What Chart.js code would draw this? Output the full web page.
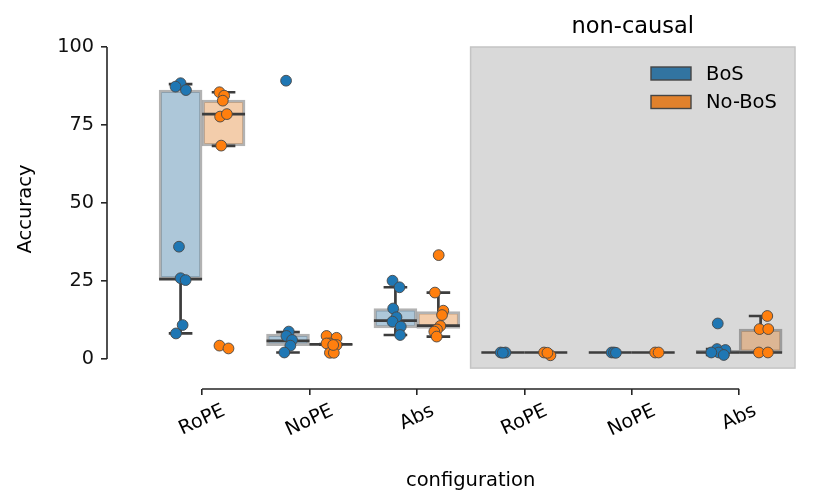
<!DOCTYPE html>
<html>
<head>
<meta charset="utf-8">
<script src="https://cdn.jsdelivr.net/npm/chart.js@4.4.1/dist/chart.umd.min.js"></script>
<style>
  html, body { margin: 0; padding: 0; background: #fff; }
</style>
</head>
<body>
<canvas id="chart" width="830" height="503"></canvas>
<script>
// — DATA —
const categories = ['RoPE', 'NoPE', 'Abs', 'RoPE', 'NoPE', 'Abs'];
const hues = ['BoS', 'No-BoS'];
const yTicks = [0, 25, 50, 75, 100];

// box stats per configuration: [whisker low, q1, median, q3, whisker high]
const bosBoxes = [
  [8.2, 25.6, 25.6, 86.2, 88.1],
  [2.1, 4.3, 5.8, 8.0, 8.6],
  [7.7, 10.0, 12.3, 16.2, 23.0],
  [2.1, 2.1, 2.1, 2.1, 2.1],
  [2.1, 2.1, 2.1, 2.1, 2.1],
  [1.3, 1.9, 2.1, 2.8, 3.2]
];
const noBosBoxes = [
  [68.3, 68.3, 78.5, 83.0, 85.5],
  [4.6, 4.6, 4.7, 4.8, 4.8],
  [7.2, 9.8, 10.7, 15.2, 21.3],
  [2.1, 2.1, 2.1, 2.1, 2.1],
  [2.1, 2.1, 2.1, 2.1, 2.1],
  [2.1, 2.1, 2.1, 9.6, 13.8]
];

// individual runs (strip points)
const bosPoints = [
  [88.4, 87.3, 86.2, 36.0, 25.9, 25.3, 10.9, 8.2],
  [89.2, 8.8, 7.4, 6.1, 4.3, 2.1],
  [25.1, 23.0, 16.2, 13.4, 12.0, 10.4, 7.7],
  [2.1, 2.1, 2.0],
  [2.1, 2.1, 2.0],
  [11.4, 3.2, 2.9, 2.1, 1.3, 2.1]
];
const noBosPoints = [
  [85.5, 84.4, 82.8, 77.7, 78.5, 68.4, 4.3, 3.4],
  [7.4, 6.8, 5.0, 4.5, 5.0, 2.0, 2.0, 4.5],
  [33.3, 21.3, 15.5, 14.1, 10.6, 9.5, 8.8, 7.2],
  [2.1, 1.2, 2.0],
  [2.1, 2.1],
  [13.8, 9.6, 9.6, 2.1, 2.1]
];

// strip jitter (in category units)
const bosJitter = [
  [0, -0.047, 0.05, -0.015, 0, 0.047, 0.019, -0.043],
  [-0.018, 0.007, -0.015, 0.038, 0.022, -0.034],
  [-0.027, 0.038, -0.021, 0.01, -0.027, 0.05, 0.044],
  [-0.02, 0.025, 0.0],
  [0.013, 0.035, 0.053],
  [0.001, -0.006, 0.072, 0.01, 0.057, -0.059]
];
const noBosJitter = [
  [-0.038, 0.006, -0.007, -0.032, 0.031, -0.022, -0.038, 0.046],
  [-0.041, 0.052, -0.01, 0.052, -0.041, -0.01, 0.027, 0.021],
  [0.003, -0.032, 0.046, 0.034, 0.018, -0.013, -0.038, -0.016],
  [-0.016, 0.043, 0.015],
  [0.018, 0.05],
  [0.062, -0.01, 0.071, -0.016, 0.068]
];

// — STYLE / LAYOUT —
const FONT = 'DejaVu Sans';
const INK = '#262626';
const DODGE = 0.2;        // hue offset from category centre
const CAP = 0.11;         // half cap width
const PANEL = { from: 2.5, to: 5.52, low: -2.9, high: 100, title: 'non-causal' };
const hueStyle = [
  { solid: '#3274a1', fill: 'rgba(50,116,161,0.4)', point: '#1f77b4' },
  { solid: '#e1812c', fill: 'rgba(225,129,44,0.4)', point: '#ff7f0e' }
];

function boxData(boxes, off) {
  return boxes.map((b, i) => ({ x: i + off, y: [b[1], b[3]] }));
}

function lineData(boxes, off) {
  const out = [];
  boxes.forEach((b, i) => {
    const [lo, q1, med, q3, hi] = b;
    const cx = i + off;
    const gap = { x: cx, y: null };
    out.push(
      { x: cx - DODGE, y: med }, { x: cx + DODGE, y: med }, gap,
      { x: cx, y: q3 }, { x: cx, y: hi }, gap,
      { x: cx, y: q1 }, { x: cx, y: lo }, gap,
      { x: cx - CAP, y: hi }, { x: cx + CAP, y: hi }, gap,
      { x: cx - CAP, y: lo }, { x: cx + CAP, y: lo }, gap
    );
  });
  return out;
}

function pointData(points, jitter, off) {
  const out = [];
  points.forEach((vals, i) => {
    vals.forEach((v, k) => out.push({ x: i + off + jitter[i][k], y: v }));
  });
  return out;
}

const hueData = [
  { boxes: bosBoxes, points: bosPoints, jitter: bosJitter, off: -DODGE },
  { boxes: noBosBoxes, points: noBosPoints, jitter: noBosJitter, off: DODGE }
];

const datasets = [];
hueData.forEach((h, k) => {
  datasets.push({
    type: 'bar', label: hues[k], data: boxData(h.boxes, h.off), order: 2,
    grouped: false, barPercentage: 1, categoryPercentage: 1,
    backgroundColor: hueStyle[k].fill, borderColor: 'rgba(63,63,63,0.4)',
    borderWidth: 2.6, borderSkipped: false
  });
  datasets.push({
    type: 'scatter', label: hues[k] + ' lines', data: lineData(h.boxes, h.off), order: 1,
    showLine: true, spanGaps: false, pointRadius: 0, borderColor: '#3d3d3d',
    borderWidth: 2.7, borderCapStyle: 'butt'
  });
  datasets.push({
    type: 'scatter', label: hues[k] + ' runs', data: pointData(h.points, h.jitter, h.off), order: 0,
    pointRadius: 5.4, backgroundColor: hueStyle[k].point, borderColor: '#474747', borderWidth: 0.9
  });
});

// panel, legend, trimmed spines and axis texts
const decorations = {
  id: 'decorations',
  beforeDatasetsDraw(chart) {
    const { ctx, scales: { x, y } } = chart;
    const l = x.getPixelForValue(PANEL.from), r = x.getPixelForValue(PANEL.to);
    const t = y.getPixelForValue(PANEL.high), b = y.getPixelForValue(PANEL.low);
    ctx.save();
    ctx.fillStyle = '#d9d9d9';
    ctx.fillRect(l, t, r - l, b - t);
    ctx.strokeStyle = '#c4c4c4';
    ctx.lineWidth = 1.5;
    ctx.strokeRect(l, t, r - l, b - t);
    ctx.restore();
  },
  afterDatasetsDraw(chart) {
    const { ctx, chartArea } = chart;
    ctx.save();
    ctx.font = `19.5px "${FONT}"`;
    ctx.textBaseline = 'middle';
    hues.forEach((name, k) => {
      const cy = 73.5 + k * 28.5;
      const sx = chartArea.right - 144;
      ctx.fillStyle = hueStyle[k].solid;
      ctx.fillRect(sx, cy - 6.5, 40, 13);
      ctx.strokeStyle = '#454545';
      ctx.lineWidth = 1.4;
      ctx.strokeRect(sx, cy - 6.5, 40, 13);
      ctx.fillStyle = '#000';
      ctx.fillText(name, sx + 55, cy + 1);
    });
    ctx.restore();
  },
  afterDraw(chart) {
    const { ctx, chartArea, scales: { x, y } } = chart;
    ctx.save();
    // spines, trimmed to the tick range
    ctx.strokeStyle = INK;
    ctx.lineWidth = 1.6;
    ctx.beginPath();
    ctx.moveTo(chartArea.left, y.getPixelForValue(yTicks[0]));
    ctx.lineTo(chartArea.left, y.getPixelForValue(yTicks[yTicks.length - 1]));
    ctx.moveTo(x.getPixelForValue(0), chartArea.bottom);
    ctx.lineTo(x.getPixelForValue(categories.length - 1), chartArea.bottom);
    ctx.stroke();

    // rotated category labels
    ctx.fillStyle = '#000';
    ctx.font = `19.3px "${FONT}"`;
    ctx.textAlign = 'center';
    ctx.textBaseline = 'middle';
    const ang = 25 * Math.PI / 180;
    categories.forEach((c, i) => {
      const w = ctx.measureText(c).width;
      const h = 22;
      const H = w * Math.sin(ang) + h * Math.cos(ang);
      const cx = x.getPixelForValue(i);
      const cy = chartArea.bottom + 11 + H / 2;
      ctx.save();
      ctx.translate(cx, cy);
      ctx.rotate(-ang);
      ctx.fillText(c, 0, 0);
      ctx.restore();
    });

    // axis titles
    ctx.font = `19.5px "${FONT}"`;
    ctx.fillText('configuration', x.getPixelForValue(2.5), 481);
    ctx.save();
    ctx.translate(26, 209);
    ctx.rotate(-Math.PI / 2);
    ctx.fillText('Accuracy', 0, 0);
    ctx.restore();

    // panel title
    ctx.font = `22.5px "${FONT}"`;
    ctx.textBaseline = 'alphabetic';
    ctx.fillText(PANEL.title, (x.getPixelForValue(PANEL.from) + x.getPixelForValue(PANEL.to)) / 2, 33);
    ctx.restore();
  }
};

new Chart(document.getElementById('chart'), {
  type: 'scatter',
  data: { datasets },
  options: {
    responsive: false,
    animation: false,
    events: [],
    layout: { padding: { left: 51, right: 35, top: 47, bottom: 108 } },
    plugins: { legend: { display: false }, tooltip: { enabled: false } },
    scales: {
      x: {
        type: 'linear', min: -0.885, max: 5.52, offset: false,
        afterBuildTicks: s => { s.ticks = categories.map((_, i) => ({ value: i })); },
        afterFit: s => { s.height = 6; },
        ticks: { display: false },
        grid: { offset: false, drawOnChartArea: false, drawTicks: true, tickLength: 6, color: INK, lineWidth: 1.6 },
        border: { display: false }
      },
      y: {
        type: 'linear', min: -9.6, max: 100,
        afterBuildTicks: s => { s.ticks = yTicks.map(v => ({ value: v })); },
        afterFit: s => { s.width = 56; },
        ticks: { font: { family: FONT, size: 19.3 }, color: '#111', padding: 7, callback: v => v },
        grid: { drawOnChartArea: false, drawTicks: true, tickLength: 6, color: INK, lineWidth: 1.6 },
        border: { display: false }
      }
    }
  },
  plugins: [decorations]
});
</script>
</body>
</html>
